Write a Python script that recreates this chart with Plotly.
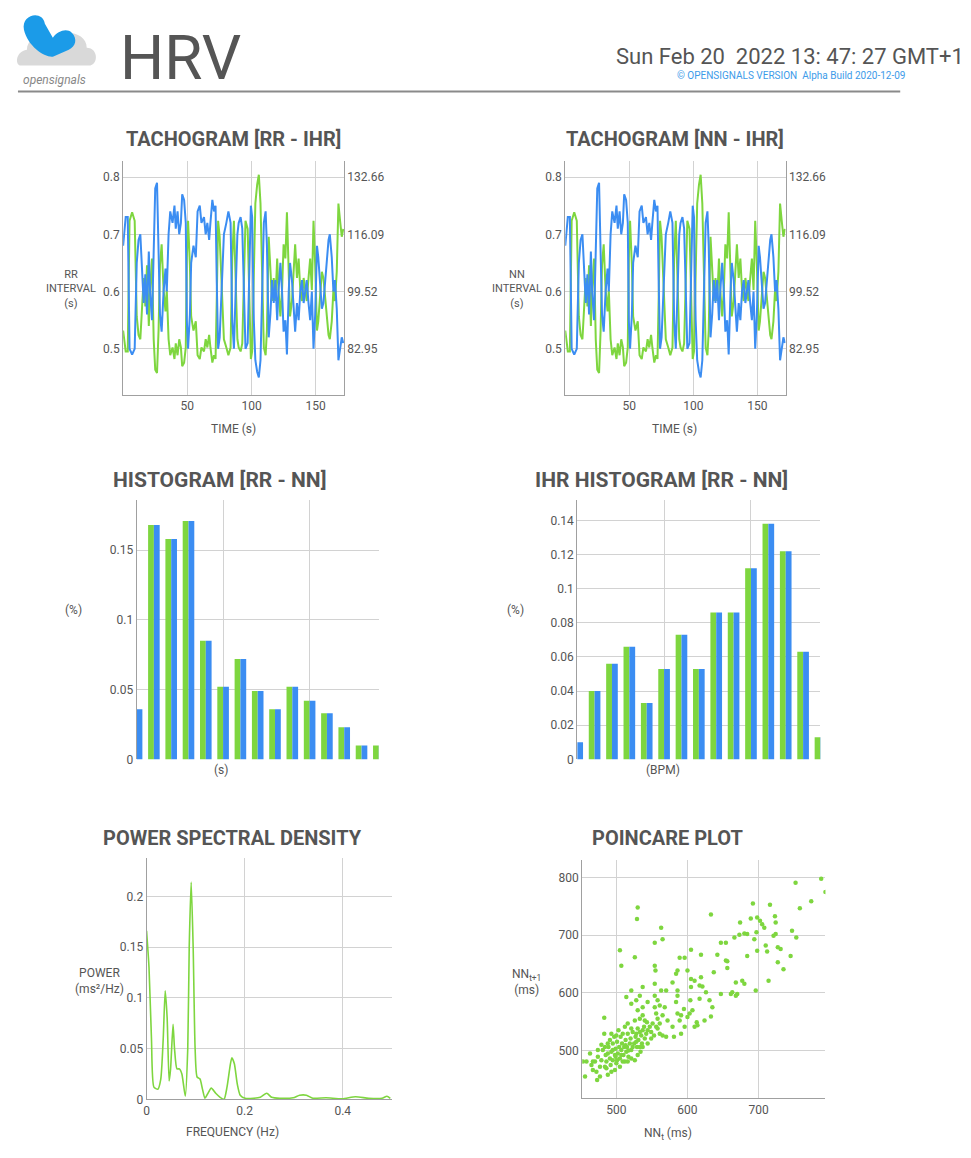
import plotly.graph_objects as go

W, H = 971, 1158
def px(x): return x / W
def py(y): return 1 - y / H

GREEN = '#7ed63f'
BLUE = '#3b8df2'
TEXT = '#555555'
GRID = '#d2d2d2'
AXIS = '#a0a0a0'
FONT = 'Roboto, Liberation Sans Narrow, sans-serif'

# ---------------- data ----------------
tach_time = [0, 2, 3.6, 5, 7, 9, 10.6, 12, 13.4, 15,
             16, 17.3, 18.6, 20, 21, 22.5, 23.8, 25, 26.4, 27.6,
             28.7, 30, 31.5, 33, 34, 35.4, 36.7, 38.5, 40, 41,
             42.4, 43.7, 45, 46, 47.5, 48.8, 49.6, 50.6, 52, 53,
             54.8, 56.6, 58, 59.7, 61, 63, 64.3, 65.6, 67, 68,
             69.5, 70.8, 72, 72.9, 74, 75.2, 76.7, 78.5, 80.4, 82,
             83.7, 85, 86.3, 87.6, 89, 90, 91.5, 92.8, 94, 95.3,
             97, 98, 99.5, 100.5, 101.8, 103, 104.4, 105.7, 107, 108.3,
             109.6, 111, 112, 113.4, 114.7, 116, 117.3, 118.6, 120, 121,
             122.5, 123.8, 125, 126.4, 127.6, 129, 130, 131.5, 132.8, 134,
             135.4, 136.7, 138, 139.3, 140.6, 141.9, 143, 144.4, 145.7, 147,
             148.3, 149.6, 151, 152, 153.5, 154.8, 156, 157.4, 158.7, 160,
             161, 162.5, 163.8, 165, 166.4, 167.7, 169, 170.3, 171.5]

rr_interval = [0.68, 0.73, 0.73, 0.50, 0.49, 0.50, 0.65, 0.69, 0.70, 0.62,
               0.58, 0.63, 0.56, 0.67, 0.60, 0.55, 0.70, 0.78, 0.79, 0.68,
               0.56, 0.53, 0.60, 0.64, 0.60, 0.70, 0.74, 0.72, 0.75, 0.71,
               0.74, 0.70, 0.72, 0.77, 0.76, 0.72, 0.55, 0.50, 0.56, 0.65,
               0.68, 0.66, 0.74, 0.75, 0.72, 0.73, 0.70, 0.72, 0.69, 0.72,
               0.76, 0.74, 0.75, 0.62, 0.50, 0.52, 0.60, 0.70, 0.72, 0.74,
               0.72, 0.55, 0.50, 0.58, 0.70, 0.72, 0.73, 0.71, 0.60, 0.50,
               0.51, 0.60, 0.75, 0.73, 0.55, 0.48, 0.46, 0.45, 0.48, 0.60,
               0.72, 0.74, 0.68, 0.52, 0.56, 0.62, 0.58, 0.62, 0.55, 0.60,
               0.65, 0.60, 0.53, 0.55, 0.49, 0.60, 0.65, 0.62, 0.56, 0.53,
               0.58, 0.55, 0.60, 0.62, 0.58, 0.60, 0.62, 0.58, 0.55, 0.60,
               0.50, 0.56, 0.68, 0.66, 0.60, 0.57, 0.58, 0.62, 0.66, 0.69,
               0.70, 0.66, 0.60, 0.62, 0.57, 0.48, 0.50, 0.52, 0.51]

# NN tachogram is visually identical to the RR one
nn_interval = list(rr_interval)

# instantaneous heart rate (bpm) derived from the intervals
ihr_rr = [60.0 / v for v in rr_interval]
ihr_nn = [60.0 / v for v in nn_interval]

ihr_ticks = [82.95, 99.52, 116.09, 132.66]
rr_ticks = [0.5, 0.6, 0.7, 0.8]

# RR / NN histogram (fraction per bin)
hist_bins = list(range(15))
hist_rr = [0.036, 0.168, 0.158, 0.171, 0.085, 0.052, 0.072, 0.049, 0.036, 0.052, 0.042, 0.033, 0.023, 0.010, 0.010]
hist_nn = [0.036, 0.168, 0.158, 0.171, 0.085, 0.052, 0.072, 0.049, 0.036, 0.052, 0.042, 0.033, 0.023, 0.010, 0.010]

# IHR histogram
ihr_bins = list(range(15))
ihr_hist_rr = [0.010, 0.040, 0.056, 0.066, 0.033, 0.053, 0.073, 0.053, 0.086, 0.086, 0.112, 0.138, 0.122, 0.063, 0.013]
ihr_hist_nn = [0.010, 0.040, 0.056, 0.066, 0.033, 0.053, 0.073, 0.053, 0.086, 0.086, 0.112, 0.138, 0.122, 0.063, 0.013]

# power spectral density
psd_freq = [0.0, 0.005, 0.01, 0.015, 0.023, 0.029, 0.034, 0.038, 0.042, 0.046,
            0.049, 0.054, 0.057, 0.062, 0.067, 0.072, 0.079, 0.084, 0.087, 0.091,
            0.095, 0.099, 0.103, 0.109, 0.114, 0.119, 0.124, 0.132, 0.141, 0.150,
            0.158, 0.164, 0.171, 0.174, 0.179, 0.185, 0.191, 0.201, 0.218, 0.232,
            0.245, 0.255, 0.272, 0.299, 0.312, 0.326, 0.339, 0.366, 0.399, 0.426,
            0.453, 0.480, 0.490, 0.497]
psd_power = [0.166, 0.13, 0.06, 0.012, 0.010, 0.020, 0.060, 0.107, 0.080, 0.018,
             0.030, 0.074, 0.050, 0.030, 0.030, 0.025, 0.003, 0.050, 0.150, 0.214,
             0.150, 0.050, 0.022, 0.020, 0.010, 0.001, 0.005, 0.011, 0.006, 0.002,
             0.000, 0.012, 0.035, 0.041, 0.035, 0.015, 0.004, 0.001, 0.001, 0.002,
             0.006, 0.002, 0.001, 0.0015, 0.004, 0.004, 0.001, 0.0015, 0.0005, 0.0025,
             0.001, 0.001, 0.003, 0.001]

# Poincare plot (ms)
poincare_nn_t = [788, 794, 752, 774, 758, 692, 716, 723, 724, 698, 689, 674, 702, 705, 708, 697, 680, 684, 673, 666,
                 694, 721, 724, 747, 753, 727, 731, 712, 698, 710, 745, 735, 727, 684, 654, 647, 633, 642, 654, 656,
                 656, 637, 619, 605, 596, 589, 586, 584, 600, 605, 610, 619, 605, 617, 621, 626, 647, 661, 663, 668,
                 670, 677, 680, 696, 714, 668, 631, 635, 633, 624, 613, 614, 610, 617, 604, 607, 603, 600, 595, 591,
                 586, 584, 586, 586, 579, 570, 589, 596, 591, 581, 579, 572, 565, 568, 561, 558, 554, 556, 558, 561,
                 558, 561, 565, 570, 556, 549, 553, 544, 540, 537, 530, 537, 544, 554, 563, 554, 554, 555, 563, 565,
                 554, 530, 529, 526, 505, 507, 521, 514, 537, 533, 528, 521,
                 453, 458, 456, 465, 467, 472, 473, 470, 474, 477, 479, 481, 483, 483, 486, 486, 488, 489, 491, 492,
                 493, 495, 495, 498, 499, 500, 501, 502, 504, 505, 506, 507, 508, 510, 511, 512, 513, 514, 515, 516,
                 517, 519, 520, 521, 523, 525, 526, 527, 528, 529, 530, 531, 533, 534, 535, 536, 537, 540, 542, 479,
                 484, 485, 488, 491, 493, 497, 500, 503, 509, 512, 516, 521, 526, 533, 509, 505, 498, 493, 488, 484,
                 477, 467, 463, 474, 516, 521, 530, 537, 544, 549, 495, 499, 501, 507, 513, 517, 523, 528, 533, 539,
                 543, 547, 551]
poincare_nn_t1 = [798, 775, 791, 759, 747, 755, 753, 733, 722, 731, 729, 722, 725, 719, 713, 705, 703, 702, 701, 696,
                  693, 699, 702, 708, 696, 679, 676, 672, 673, 682, 664, 641, 653, 664, 687, 687, 736, 666, 656, 643,
                  655, 636, 666, 675, 661, 661, 639, 633, 639, 624, 621, 627, 610, 613, 611, 601, 598, 598, 601, 595,
                  598, 621, 616, 604, 621, 618, 587, 575, 559, 552, 549, 544, 541, 590, 587, 570, 564, 558, 572, 561,
                  564, 584, 595, 604, 618, 604, 552, 541, 529, 524, 541, 552, 561, 575, 578, 587, 575, 564, 555, 547,
                  538, 529, 526, 524, 541, 532, 526, 535, 552, 561, 570, 575, 584, 595, 604, 616, 647, 639, 713, 693,
                  687, 748, 728, 662, 674, 647, 604, 593, 610, 595, 587, 581,
                  481, 481, 455, 475, 466, 463, 449, 481, 489, 472, 483, 501, 529, 557, 469, 481, 495, 506, 486, 475,
                  498, 512, 483, 492, 503, 478, 515, 495, 506, 486, 524, 501, 512, 492, 506, 481, 518, 498, 506, 529,
                  489, 512, 521, 501, 532, 512, 483, 524, 529, 506, 538, 518, 532, 498, 526, 512, 535, 521, 529, 510,
                  506, 492, 512, 518, 529, 524, 526, 535, 529, 541, 547, 538, 552, 555, 481, 472, 466, 463, 458, 472,
                  455, 481, 495, 501, 481, 486, 492, 506, 512, 521, 501, 489, 483, 492, 509, 500, 506, 515, 506, 541,
                  549, 541, 547]

# ---------------- figure ----------------
fig = go.Figure()

def tick_font(size=12):
    return dict(family=FONT, size=size, color=TEXT)

# --- tachogram RR (left) ---
fig.add_trace(go.Scatter(x=tach_time, y=ihr_rr, xaxis='x', yaxis='y', mode='lines',
                         line=dict(color=GREEN, width=2), hoverinfo='skip'))
fig.add_trace(go.Scatter(x=tach_time, y=rr_interval, xaxis='x', yaxis='y7', mode='lines',
                         line=dict(color=BLUE, width=2), hoverinfo='skip'))
# --- tachogram NN (right) ---
fig.add_trace(go.Scatter(x=tach_time, y=ihr_nn, xaxis='x2', yaxis='y2', mode='lines',
                         line=dict(color=GREEN, width=2), hoverinfo='skip'))
fig.add_trace(go.Scatter(x=tach_time, y=nn_interval, xaxis='x2', yaxis='y8', mode='lines',
                         line=dict(color=BLUE, width=2), hoverinfo='skip'))
# --- histograms ---
fig.add_trace(go.Bar(x=hist_bins, y=hist_rr, xaxis='x3', yaxis='y3', marker=dict(color=GREEN, line=dict(width=0))))
fig.add_trace(go.Bar(x=hist_bins, y=hist_nn, xaxis='x3', yaxis='y3', marker=dict(color=BLUE, line=dict(width=0))))
fig.add_trace(go.Bar(x=ihr_bins, y=ihr_hist_rr, xaxis='x4', yaxis='y4', marker=dict(color=GREEN, line=dict(width=0))))
fig.add_trace(go.Bar(x=ihr_bins, y=ihr_hist_nn, xaxis='x4', yaxis='y4', marker=dict(color=BLUE, line=dict(width=0))))
# --- PSD ---
fig.add_trace(go.Scatter(x=psd_freq, y=psd_power, xaxis='x5', yaxis='y5', mode='lines',
                         line=dict(color=GREEN, width=1.6, shape='spline', smoothing=0.6), hoverinfo='skip'))
# --- Poincare ---
fig.add_trace(go.Scatter(x=poincare_nn_t, y=poincare_nn_t1, xaxis='x6', yaxis='y6', mode='markers',
                         marker=dict(color=GREEN, size=4.5, line=dict(width=0)), hoverinfo='skip'))

# tachogram scale mapping: right axis is linear and aligned with the left one
RR_RANGE = [0.42, 0.828]
def rr_to_ihr_axis(v):
    return ihr_ticks[0] + (v - rr_ticks[0]) * (ihr_ticks[-1] - ihr_ticks[0]) / (rr_ticks[-1] - rr_ticks[0])
IHR_RANGE = [rr_to_ihr_axis(RR_RANGE[0]), rr_to_ihr_axis(RR_RANGE[1])]

def xax(dom, rng, tickvals, showlabels=True, line=True, grid=True):
    return dict(domain=[px(dom[0]), px(dom[1])], range=rng, tickvals=tickvals,
                showticklabels=showlabels, showline=line, linecolor=AXIS, linewidth=1,
                showgrid=grid, gridcolor=GRID, zeroline=False, ticks='', tickfont=tick_font(12),
                fixedrange=True)

def yax(dom, rng, tickvals, anchor, side='left', line=True, grid=True, ticktext=None):
    d = dict(domain=[py(dom[1]), py(dom[0])], range=rng, tickvals=tickvals, anchor=anchor, side=side,
             showline=line, linecolor=AXIS, linewidth=1, showgrid=grid, gridcolor=GRID,
             zeroline=False, ticks='', tickfont=tick_font(12), fixedrange=True)
    if ticktext is not None:
        d['ticktext'] = ticktext
    return d

layout = dict(
    width=W, height=H, margin=dict(l=0, r=0, t=0, b=0),
    paper_bgcolor='white', plot_bgcolor='white', showlegend=False,
    barmode='group', bargap=0.33, bargroupgap=0.0,
    font=dict(family=FONT, color=TEXT),
    # tachogram RR
    xaxis=xax([120.5, 342], [0, 172], [50, 100, 150]),
    yaxis=yax([162, 397], IHR_RANGE, ihr_ticks, 'x', side='right',
              ticktext=['%.2f' % v for v in ihr_ticks]),
    yaxis7=dict(overlaying='y', range=RR_RANGE, tickvals=rr_ticks, ticktext=['0.5', '0.6', '0.7', '0.8'],
                side='left', anchor='x', showline=True, linecolor=AXIS, showgrid=False, zeroline=False,
                ticks='', tickfont=tick_font(12), fixedrange=True),
    # tachogram NN
    xaxis2=xax([564, 785], [0, 172], [50, 100, 150]),
    yaxis2=yax([162, 397], IHR_RANGE, ihr_ticks, 'x2', side='right',
               ticktext=['%.2f' % v for v in ihr_ticks]),
    yaxis8=dict(overlaying='y2', range=RR_RANGE, tickvals=rr_ticks, ticktext=['0.5', '0.6', '0.7', '0.8'],
                side='left', anchor='x2', showline=True, linecolor=AXIS, showgrid=False, zeroline=False,
                ticks='', tickfont=tick_font(12), fixedrange=True),
    # histogram RR-NN
    xaxis3=xax([134, 377], [0, 14], [5, 10], showlabels=False, line=False),
    yaxis3=yax([503, 764], [0, 0.186], [0, 0.05, 0.1, 0.15], 'x3', ticktext=['0', '0.05', '0.1', '0.15']),
    # IHR histogram
    xaxis4=xax([576, 820], [0, 14], [5, 10], showlabels=False, line=False),
    yaxis4=yax([503, 764], [0, 0.152], [0, 0.02, 0.04, 0.06, 0.08, 0.1, 0.12, 0.14], 'x4',
               ticktext=['0', '0.02', '0.04', '0.06', '0.08', '0.1', '0.12', '0.14']),
    # PSD
    xaxis5=xax([144, 390], [0, 0.5], [0, 0.2, 0.4]),
    yaxis5=yax([863, 1106], [0, 0.238], [0, 0.05, 0.1, 0.15, 0.2], 'x5',
               ticktext=['0', '0.05', '0.1', '0.15', '0.2']),
    # Poincare
    xaxis6=xax([581, 825], [452, 794], [500, 600, 700]),
    yaxis6=yax([865, 1105], [417, 831], [500, 600, 700, 800], 'x6'),
)
layout['xaxis']['anchor'] = 'y'
layout['xaxis2']['anchor'] = 'y2'
layout['xaxis3']['anchor'] = 'y3'
layout['xaxis4']['anchor'] = 'y4'
layout['xaxis5']['anchor'] = 'y5'
layout['xaxis6']['anchor'] = 'y6'
fig.update_layout(**layout)

def ann(text, x, y, size, bold=False, color=TEXT, xanchor='center', yanchor='middle'):
    if bold:
        text = '<b>' + text + '</b>'
    return dict(text=text, x=px(x), y=py(y), xref='paper', yref='paper', showarrow=False,
                xanchor=xanchor, yanchor=yanchor, align='center',
                font=dict(family=FONT, size=size, color=color))

annotations = [
    # header
    ann('HRV', 115, 58, 62, xanchor='left'),
    ann('Sun Feb 20  2022 13: 47: 27 GMT+1', 966, 57, 22, xanchor='right'),
    ann('© OPENSIGNALS VERSION  Alpha Build 2020-12-09', 790, 76, 10, color='#3d9be9'),
    ann('<i>opensignals</i>', 52, 80, 12, color='#888888'),
    # titles
    ann('TACHOGRAM [RR - IHR]', 231, 140, 20, bold=True),
    ann('TACHOGRAM [NN - IHR]', 674, 140, 20, bold=True),
    ann('HISTOGRAM [RR - NN]', 217, 483, 21, bold=True),
    ann('IHR HISTOGRAM [RR - NN]', 661, 483, 21, bold=True),
    ann('POWER SPECTRAL DENSITY', 230, 843, 20, bold=True),
    ann('POINCARE PLOT', 667, 843, 20, bold=True),
    # axis titles
    ann('RR<br>INTERVAL<br>(s)', 68, 291, 11),
    ann('TIME (s)', 231, 432, 12),
    ann('NN<br>INTERVAL<br>(s)', 516, 291, 11),
    ann('TIME (s)', 674, 432, 12),
    ann('(%)', 71, 614, 12),
    ann('(s)', 219, 775, 12),
    ann('(%)', 514, 614, 12),
    ann('(BPM)', 662, 775, 12),
    ann('POWER<br>(ms²/Hz)', 97, 987, 12),
    ann('FREQUENCY (Hz)', 230, 1139, 12),
    ann('NN<sub>t+1</sub><br>(ms)', 525, 988, 12),
    ann('NN<sub>t</sub> (ms)', 667, 1141, 12),
]
fig.update_layout(annotations=annotations)

# logo + header rule
def ppath(points):
    parts = []
    for cmd, coords in points:
        if cmd == 'Z':
            parts.append('Z')
        else:
            parts.append(cmd + ' ' + ' '.join('%.5f,%.5f' % (px(a), py(b)) for a, b in coords))
    return ' '.join(parts)

cloud = ppath([('M', [(18, 66)]),
               ('C', [(12, 66), (12, 52), (24, 50)]),
               ('C', [(24, 36), (44, 32), (50, 40)]),
               ('C', [(58, 28), (84, 32), (84, 48)]),
               ('C', [(96, 48), (96, 66), (86, 66)]),
               ('Z', None)])
blob = ppath([('M', [(21, 30)]),
              ('C', [(18, 14), (40, 10), (42, 24)]),
              ('L', [(50, 38)]),
              ('C', [(55, 31), (64, 28), (69, 33)]),
              ('C', [(75, 39), (73, 47), (66, 50)]),
              ('L', [(50, 57)]),
              ('C', [(42, 58), (25, 47), (21, 30)]),
              ('Z', None)])
shapes = [
    dict(type='path', path=cloud, xref='paper', yref='paper', fillcolor='#d9d9d9', line=dict(width=0)),
    dict(type='path', path=blob, xref='paper', yref='paper', fillcolor='#1b9be8', line=dict(width=0)),
    dict(type='line', x0=px(15), x1=px(900), y0=py(92), y1=py(92), xref='paper', yref='paper',
         line=dict(color='#8a8a8a', width=2)),
]
fig.update_layout(shapes=shapes)

fig.write_html('out.html', config={'displayModeBar': False},
               post_script="document.body.style.margin='0';")
